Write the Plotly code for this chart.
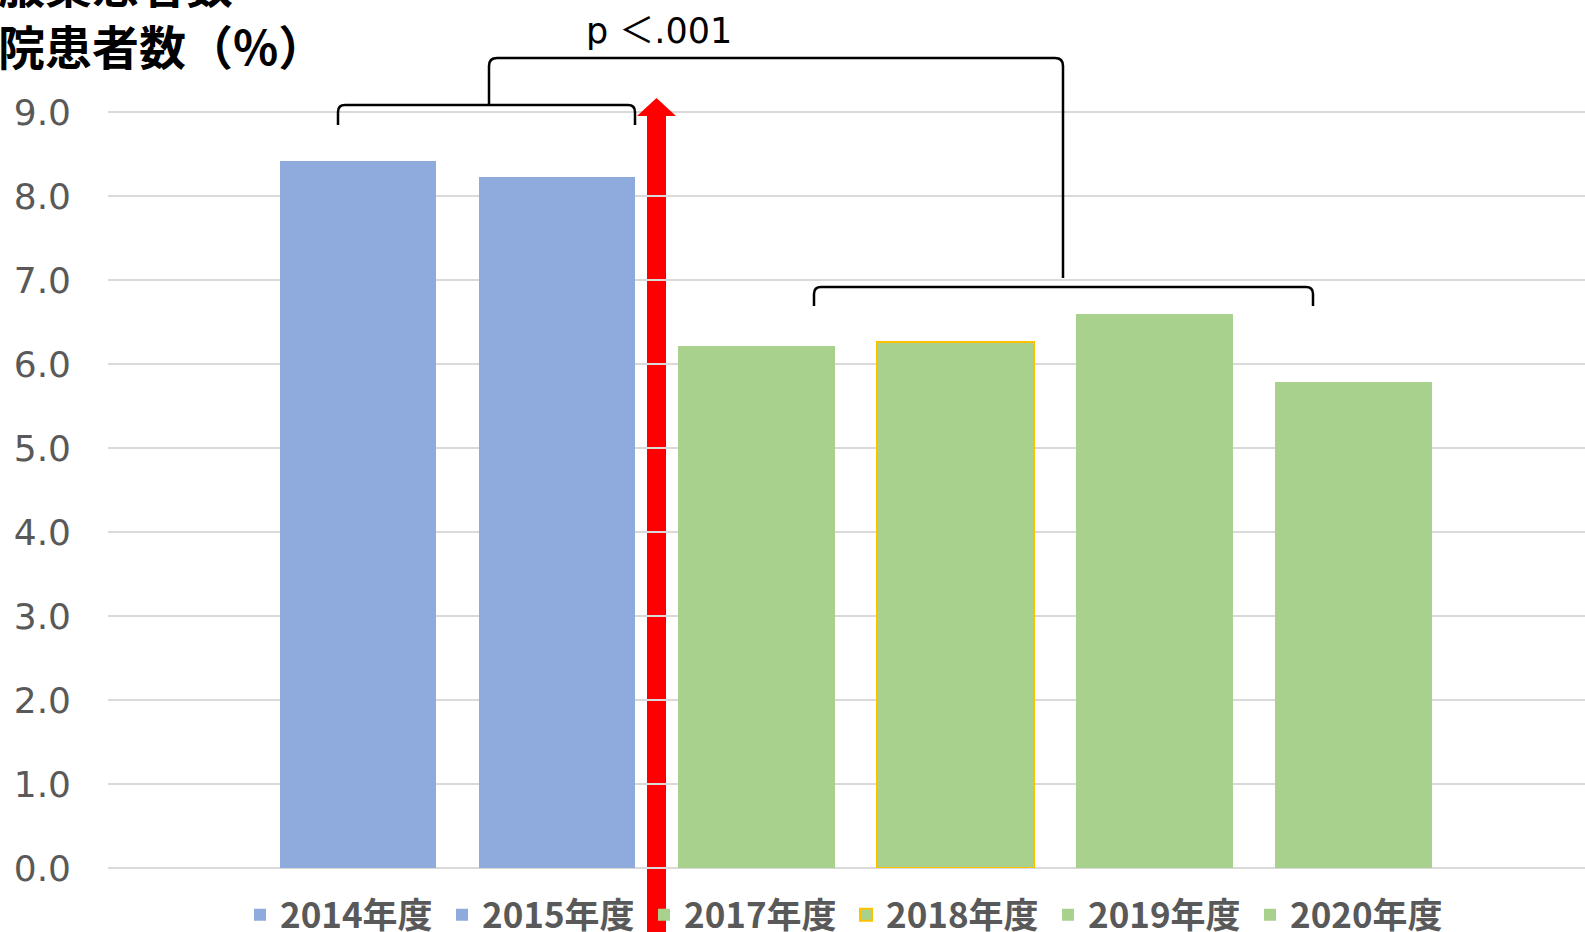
import plotly.graph_objects as go

# Share of patients per fiscal year (%)
years = ["2014年度", "2015年度", "2017年度", "2018年度", "2019年度", "2020年度"]
rates = [8.42, 8.23, 6.22, 6.26, 6.59, 5.79]
bar_colors = ["#8FAADC", "#8FAADC", "#A9D18E", "#A9D18E", "#A9D18E", "#A9D18E"]
edge_colors = [None, None, None, "#FFC000", None, None]
y_ticks = [0, 1, 2, 3, 4, 5, 6, 7, 8, 9]
y_labels = ["0.0", "1.0", "2.0", "3.0", "4.0", "5.0", "6.0", "7.0", "8.0", "9.0"]
sig_label = "p ＜.001"
title_lines = ["内服薬患者数", "入院患者数（%）"]

W, H = 1585, 932
ML, MR, MT, MB = 108, 0, 28, 64
PW, PH = W - ML - MR, H - MT - MB
x_pos = list(range(len(years)))
x_range = [-1.256, 6.163]
y_range = [0, 10]

fig = go.Figure()
for i, (yr, v) in enumerate(zip(years, rates)):
    line = dict(width=0) if edge_colors[i] is None else dict(color=edge_colors[i], width=2)
    fig.add_trace(go.Bar(
        x=[x_pos[i]], y=[v], name=yr, width=0.787,
        marker=dict(color=bar_colors[i], line=line),
        hoverinfo="skip",
    ))

def px_x(p):
    return x_range[0] + (p - ML) / PW * (x_range[1] - x_range[0])

def px_y(p):
    return y_range[0] + (MT + PH - p) / PH * (y_range[1] - y_range[0])

def bracket(x0, x1, ytop, ybot, r=7):
    rx = r / PW * (x_range[1] - x_range[0])
    ry = r / PH * (y_range[1] - y_range[0])
    return (f"M {x0},{ybot} L {x0},{ytop - ry} Q {x0},{ytop} {x0 + rx},{ytop} "
            f"L {x1 - rx},{ytop} Q {x1},{ytop} {x1},{ytop - ry} L {x1},{ybot}")

bk = dict(color="black", width=2.5)
shapes = []
# bracket over 2014-2015
shapes.append(dict(type="path", xref="x", yref="y", line=bk,
                   path=bracket(px_x(338), px_x(635), px_y(105), px_y(125))))
# bracket over 2017-2020
shapes.append(dict(type="path", xref="x", yref="y", line=bk,
                   path=bracket(px_x(814), px_x(1313), px_y(287), px_y(306))))
# outer bracket linking both groups
shapes.append(dict(type="path", xref="x", yref="y", line=bk,
                   path=(f"M {px_x(489)},{px_y(105)} L {px_x(489)},{px_y(66)} "
                         f"Q {px_x(489)},{px_y(58)} {px_x(497)},{px_y(58)} "
                         f"L {px_x(1055)},{px_y(58)} Q {px_x(1063)},{px_y(58)} {px_x(1063)},{px_y(66)} "
                         f"L {px_x(1063)},{px_y(278)}")))
# red arrow between the two periods
shapes.append(dict(type="rect", xref="x", yref="paper", layer="below",
                   x0=px_x(647), x1=px_x(666), y0=-0.2, y1=(MT + PH - 115) / PH,
                   fillcolor="#FF0000", line=dict(width=0)))
shapes.append(dict(type="path", xref="x", yref="y",
                   path=f"M {px_x(637)},{px_y(116)} L {px_x(676)},{px_y(116)} L {px_x(656.5)},{px_y(98)} Z",
                   fillcolor="#FF0000", line=dict(width=0)))

annotations = [
    dict(text=sig_label, xref="x", yref="y", x=px_x(659), y=px_y(31),
         showarrow=False, xanchor="center", yanchor="middle",
         font=dict(family="DejaVu Sans, Noto Sans CJK JP", size=35, color="black")),
    dict(text="<b>" + title_lines[0] + "</b>", xref="paper", yref="paper",
         x=(-51 - ML) / PW, y=(MT + PH - (-17)) / PH, showarrow=False,
         xanchor="left", yanchor="middle",
         font=dict(family="Noto Sans CJK JP", size=47, color="black")),
    dict(text="<b>" + title_lines[1] + "</b>", xref="paper", yref="paper",
         x=(-51 - ML) / PW, y=(MT + PH - 44) / PH, showarrow=False,
         xanchor="left", yanchor="middle",
         font=dict(family="Noto Sans CJK JP", size=47, color="black")),
]

fig.update_layout(
    width=W, height=H,
    margin=dict(l=ML, r=MR, t=MT, b=MB, autoexpand=False),
    plot_bgcolor="white", paper_bgcolor="white",
    bargap=0, barmode="overlay",
    shapes=shapes, annotations=annotations,
    showlegend=True,
    legend=dict(orientation="h", x=(240 - ML) / PW, xanchor="left",
                y=(MT + PH - 915) / PH, yanchor="middle",
                entrywidth=157, entrywidthmode="pixels",
                font=dict(family="Noto Sans CJK JP", size=35, color="#595959", weight="bold"),
                bgcolor="rgba(0,0,0,0)", traceorder="normal"),
    xaxis=dict(range=x_range, showticklabels=False, showgrid=False, zeroline=False,
               showline=False, ticks=""),
    yaxis=dict(range=y_range, tickvals=y_ticks, ticktext=y_labels,
               showgrid=True, gridcolor="#D9D9D9", gridwidth=2,
               zeroline=True, zerolinecolor="#D9D9D9", zerolinewidth=2,
               showline=False, ticks="", ticklabelstandoff=36,
               tickfont=dict(family="DejaVu Sans", size=36, color="#595959")),
)

fig.write_html("out.html")
